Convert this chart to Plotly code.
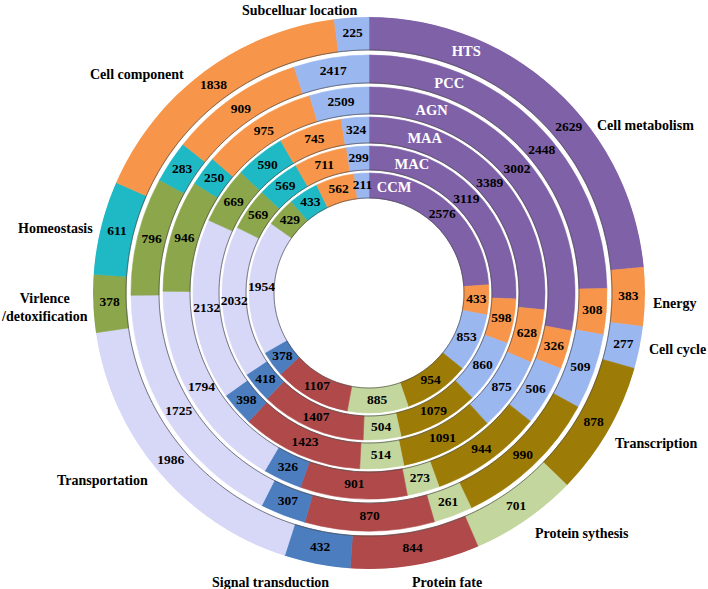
import numpy as np
import plotly.graph_objects as go

# ---------------- data ----------------
categories = ["Cell metabolism", "Energy", "Cell cycle", "Transcription", "Protein sythesis",
              "Protein fate", "Signal transduction", "Transportation",
              "Virlence<br>/detoxification", "Homeostasis", "Cell component",
              "Subcelluar location"]
ring_names = ["HTS", "PCC", "AGN", "MAA", "MAC", "CCM"]   # outer -> inner

HTS = [2629, 383, 277, 878, 701, 844, 432, 1986, 378, 611, 1838, 225]
PCC = [2448, 308, 509, 990, 261, 870, 307, 1725, 796, 283, 909, 2417]
AGN = [3002, 326, 506, 944, 273, 901, 326, 1794, 946, 250, 975, 2509]
MAA = [3389, 628, 875, 1091, 514, 1423, 398, 2132, 669, 590, 745, 324]
MAC = [3119, 598, 860, 1079, 504, 1407, 418, 2032, 569, 569, 711, 299]
CCM = [2576, 433, 853, 954, 885, 1107, 378, 1954, 429, 433, 562, 211]

# In the picture the "Subcellular location" arcs of PCC and AGN are drawn much smaller
# than their printed labels (2417 / 2509); arc sizes:
PCC_SUBCELL_ARC = 505
AGN_SUBCELL_ARC = 500

labels = {"HTS": HTS, "PCC": PCC, "AGN": AGN, "MAA": MAA, "MAC": MAC, "CCM": CCM}
arcs = {"HTS": HTS, "PCC": PCC[:-1] + [PCC_SUBCELL_ARC], "AGN": AGN[:-1] + [AGN_SUBCELL_ARC],
        "MAA": MAA, "MAC": MAC, "CCM": CCM}

# ---------------- style ----------------
colors = ["#7F61A8", "#F7964A", "#9BB7F0", "#9C7B06", "#C3D69D", "#B04A4A",
          "#4B7DBF", "#D7D7F8", "#8CA64C", "#1FB9C5", "#F7964A", "#9BB7F0"]
R_MAX = 276
ring_radii = {"HTS": (243, 276), "PCC": (210, 238), "AGN": (179, 206),
              "MAA": (150, 176), "MAC": (123, 147), "CCM": (95, 120)}
title_angle = {"HTS": 22, "PCC": 21, "AGN": 19, "MAA": 20, "MAC": 18.5, "CCM": 13.5}
label_nudge = {("HTS", 0): 8, ("PCC", 0): 6}
FONT = "Liberation Serif"

W, H = 708, 589
CX, CY = 369, 293

fig = go.Figure()

for ring in ring_names:
    vals = np.array(arcs[ring], dtype=float)
    total = vals.sum()
    spans = vals / total * 360.0
    starts = np.concatenate([[0], np.cumsum(spans)[:-1]])
    mids = starts + spans / 2
    r0, r1 = ring_radii[ring]
    fig.add_trace(go.Barpolar(
        theta=mids, width=spans, base=[r0] * len(vals), r=[r1 - r0] * len(vals),
        marker=dict(color=colors, line=dict(color=colors, width=0.6)),
        hoverinfo="skip", showlegend=False))
    # thin dark edge at the inner side of each ring
    th = np.linspace(0, 360, 361)
    fig.add_trace(go.Scatterpolar(theta=th, r=[r0] * len(th), mode="lines",
                                  line=dict(color="rgba(70,70,70,0.85)", width=0.8),
                                  hoverinfo="skip", showlegend=False))
    # value labels
    tmid = mids.copy()
    for i in range(len(tmid)):
        tmid[i] += label_nudge.get((ring, i), 0)
    fig.add_trace(go.Scatterpolar(
        theta=tmid, r=[(r0 + r1) / 2] * len(vals), mode="text",
        text=[str(v) for v in labels[ring]],
        textfont=dict(family=FONT, size=13.5, color="black", weight="bold"),
        hoverinfo="skip", showlegend=False))
    # ring name
    fig.add_trace(go.Scatterpolar(
        theta=[title_angle[ring]], r=[(r0 + r1) / 2], mode="text", text=[ring],
        textfont=dict(family=FONT, size=14.5, color="white", weight="bold"),
        hoverinfo="skip", showlegend=False))

# category labels (free text boxes around the chart)
cat_pos = [(645, 125), (675, 303), (677, 349), (656, 443), (582, 533), (447, 582),
           (270, 582), (102, 480), (44, 307), (55, 228), (137, 75), (299, 10)]
for name, (px, py) in zip(categories, cat_pos):
    fig.add_annotation(x=px / W, y=1 - py / H, xref="paper", yref="paper",
                       text=name, showarrow=False, xanchor="center", yanchor="middle",
                       font=dict(family=FONT, size=14, color="black", weight="bold"))

fig.update_layout(
    width=W, height=H, margin=dict(l=0, r=0, t=0, b=0),
    paper_bgcolor="white", plot_bgcolor="white",
    polar=dict(
        domain=dict(x=[(CX - R_MAX) / W, (CX + R_MAX) / W],
                    y=[1 - (CY + R_MAX) / H, 1 - (CY - R_MAX) / H]),
        bgcolor="white",
        radialaxis=dict(range=[0, R_MAX], visible=False, showgrid=False),
        angularaxis=dict(rotation=90, direction="clockwise", visible=False,
                         showgrid=False),
    ),
)

fig.write_html("out.html", config={"displayModeBar": False},
               post_script="document.body.style.margin='0px';"
                           "document.body.style.overflow='hidden';")
